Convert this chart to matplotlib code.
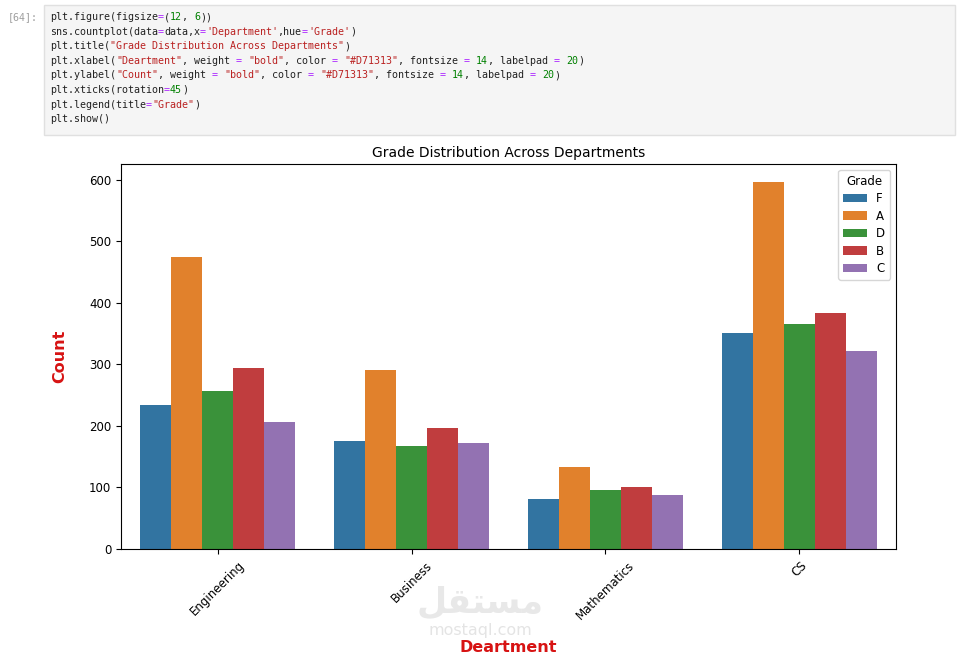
import re
import matplotlib
matplotlib.use("Agg")
import matplotlib.pyplot as plt
from matplotlib.patches import Rectangle

departments = ["Engineering", "Business", "Mathematics", "CS"]
grades = ["F", "A", "D", "B", "C"]
counts = {
    "F": [234, 176, 81, 352],
    "A": [474, 291, 134, 596],
    "D": [257, 168, 96, 366],
    "B": [295, 196, 101, 383],
    "C": [207, 173, 88, 322],
}
colors = ["#3274A1", "#E1812C", "#3A923A", "#C03D3E", "#9372B2"]

code_lines = [
    "plt.figure(figsize=(12, 6))",
    "sns.countplot(data=data,x='Department',hue='Grade')",
    "plt.title(\"Grade Distribution Across Departments\")",
    "plt.xlabel(\"Deartment\", weight = \"bold\", color = \"#D71313\", fontsize = 14, labelpad = 20)",
    "plt.ylabel(\"Count\", weight = \"bold\", color = \"#D71313\", fontsize = 14, labelpad = 20)",
    "plt.xticks(rotation=45)",
    "plt.legend(title=\"Grade\")",
    "plt.show()",
]

W, H = 960, 660
fig = plt.figure(figsize=(9.6, 6.6), dpi=100)

# notebook cell on top
fig.patches.append(Rectangle((44 / W, 1 - 135 / H), 911 / W, 130 / H,
                             transform=fig.transFigure, facecolor="#F5F5F5",
                             edgecolor="#E0E0E0", linewidth=1))
fig.text(8 / W, 1 - 17 / H, "[64]:", fontsize=7.18, family="DejaVu Sans Mono",
         color="#9E9E9E", va="center")

# 6 px per character in DejaVu Sans Mono
fs = 7.18
charw = 6.0
tok = re.compile(r"(\"[^\"]*\"|'[^']*'|\b\d+\b|=)")
for i, line in enumerate(code_lines):
    y = 1 - (17 + i * 14.6) / H
    col = 0
    for part in tok.split(line):
        if not part:
            continue
        if part.startswith('"') or part.startswith("'"):
            c = "#BA2121"
        elif part.isdigit():
            c = "#008000"
        elif part == "=":
            c = "#AA22FF"
        else:
            c = "#212121"
        fig.text((50 + col * charw) / W, y, part, fontsize=fs,
                 family="DejaVu Sans Mono", color=c, va="center")
        col += len(part)

ax = fig.add_axes([121 / W, 1 - 549 / H, 775 / W, 385 / H])
width = 0.16
for j, g in enumerate(grades):
    xs = [i + (j - 2) * width for i in range(len(departments))]
    ax.bar(xs, counts[g], width=width, color=colors[j], label=g)

ax.set_xlim(-0.5, len(departments) - 0.5)
ax.set_ylim(0, 626)
ax.set_yticks([0, 100, 200, 300, 400, 500, 600])
ax.set_xticks(range(len(departments)))
ax.set_xticklabels(departments, rotation=45, fontsize=8.5)
ax.tick_params(axis="y", labelsize=8.5)
ax.set_title("Grade Distribution Across Departments", fontsize=10, pad=5)
ax.set_xlabel("Deartment", weight="bold", color="#D71313", fontsize=11.5, labelpad=13)
ax.set_ylabel("Count", weight="bold", color="#D71313", fontsize=11.5, labelpad=16)
ax.legend(title="Grade", loc="upper right", fontsize=8.5, title_fontsize=8.5,
          labelspacing=0.38, borderpad=0.4)

# site watermark
fig.text(480 / W, 1 - 603 / H, "\uFEDE\uFED8\uFE98\uFEB4\uFEE3", fontsize=25,
         weight="bold", color="#E8E8E8", ha="center", va="center")
fig.text(480 / W, 1 - 630 / H, "mostaql.com", fontsize=11.5, color="#E4E4E4",
         ha="center", va="center")

fig.savefig("out.png", dpi=100)
